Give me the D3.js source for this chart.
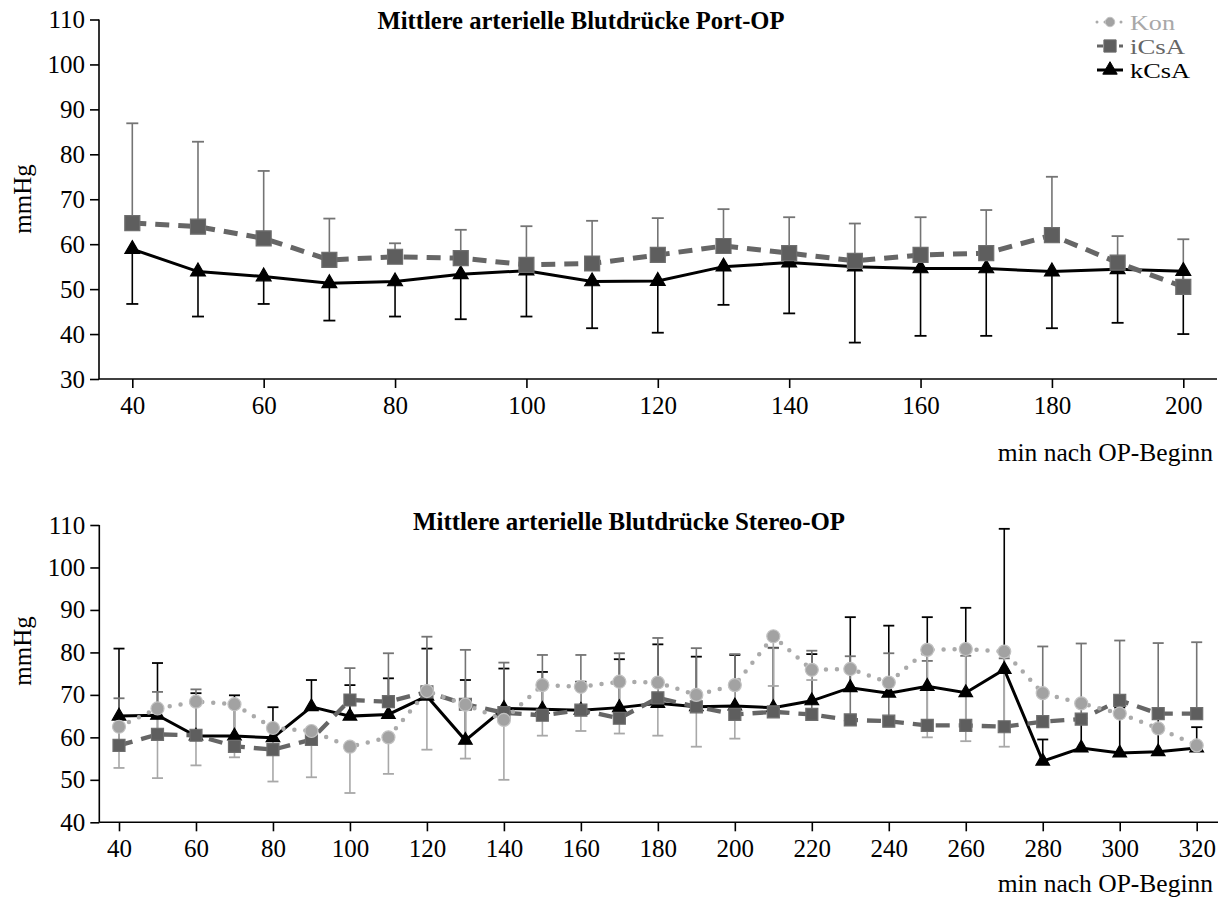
<!DOCTYPE html>
<html>
<head>
<meta charset="utf-8">
<script src="https://cdn.jsdelivr.net/npm/d3@7"></script>
<style>
  html, body { margin: 0; padding: 0; background: #fff; }
  svg { display: block; font-family: "Liberation Serif", "Times New Roman", serif; }
</style>
</head>
<body>
<svg id="chart" width="1222" height="901"></svg>
<script>
// ---------- DATA ----------
const portTitle = "Mittlere arterielle Blutdrücke Port-OP";
const stereoTitle = "Mittlere arterielle Blutdrücke Stereo-OP";
const yLabel = "mmHg";
const xLabel = "min nach OP-Beginn";
const seriesNames = ["Kon", "iCsA", "kCsA"];

const portTime = [40, 50, 60, 70, 80, 90, 100, 110, 120, 130, 140, 150, 160, 170, 180, 190, 200];
const portICsA = [64.7, 63.9, 61.3, 56.5, 57.2, 56.9, 55.4, 55.7, 57.6, 59.6, 58.0, 56.3, 57.6, 58.0, 62.0, 55.9, 50.5];
const portICsAErrHigh = [86.9, 82.8, 76.3, 65.7, 60.2, 63.2, 64.0, 65.2, 65.8, 67.8, 66.0, 64.6, 66.0, 67.6, 75.0, 61.8, 61.1];
const portKCsA = [58.9, 53.9, 52.8, 51.3, 51.7, 53.3, 54.1, 51.7, 51.8, 55.0, 55.9, 55.0, 54.6, 54.6, 53.9, 54.4, 54.0];
const portKCsAErrLow = [46.7, 43.9, 46.7, 43.0, 43.9, 43.3, 43.9, 41.3, 40.3, 46.5, 44.6, 38.1, 39.6, 39.6, 41.3, 42.5, 40.0];
const portXTicks = [40, 60, 80, 100, 120, 140, 160, 180, 200];
const portYTicks = [30, 40, 50, 60, 70, 80, 90, 100, 110];

const stereoTime = [40, 50, 60, 70, 80, 90, 100, 110, 120, 130, 140, 150, 160, 170, 180, 190, 200, 210, 220, 230, 240, 250, 260, 270, 280, 290, 300, 310, 320];
const stereoKon = [62.5, 66.8, 68.4, 67.8, 62.2, 61.5, 57.8, 60.0, 70.9, 67.7, 64.1, 72.3, 71.9, 73.1, 72.9, 70.0, 72.3, 83.8, 75.9, 76.1, 72.9, 80.6, 80.8, 80.2, 70.4, 68.0, 65.6, 62.1, 58.1];
const stereoKonErrLow = [52.8, 50.4, 53.4, 55.3, 49.6, 50.6, 46.9, 51.4, 57.1, 55.0, 50.0, 60.4, 61.5, 60.9, 60.4, 57.8, 59.7, 72.1, 73.5, null, null, 60.0, 59.1, 57.8, null, null, null, null, null];
const stereoICsA = [58.1, 60.7, 60.5, 57.9, 57.1, 59.5, 68.8, 68.4, 70.7, 67.8, 65.8, 65.2, 66.4, 64.5, 69.3, 67.2, 65.4, 66.0, 65.4, 64.1, 63.8, 62.8, 62.8, 62.5, 63.7, 64.3, 68.7, 65.6, 65.6];
const stereoICsAErrHigh = [69.2, 70.7, 71.3, null, null, null, 76.3, 79.8, 83.7, 80.6, 77.6, 79.4, 79.4, 79.8, 83.4, 81.0, 79.6, 81.0, 80.4, 79.1, 79.8, 78.0, 79.2, 78.6, 81.4, 82.1, 82.8, 82.2, 82.4];
const stereoKCsA = [65.0, 65.2, 60.3, 60.3, 59.9, 67.2, 65.0, 65.4, 69.7, 59.3, 66.8, 66.6, 66.4, 67.0, 68.0, 67.2, 67.4, 67.0, 68.6, 71.7, 70.4, 72.0, 70.5, 76.0, 54.4, 57.5, 56.3, 56.6, 57.5];
const stereoKCsAErrHigh = [80.9, 77.5, 70.4, 69.9, 67.1, 73.5, 72.3, 73.9, 80.9, 73.5, 76.2, 75.4, 73.1, 78.4, 81.9, 79.0, 79.4, 81.1, 79.6, 88.3, 86.3, 88.3, 90.5, 109.1, 59.5, 65.2, 67.0, 66.6, 62.4];
const stereoXTicks = [40, 60, 80, 100, 120, 140, 160, 180, 200, 220, 240, 260, 280, 300, 320];
const stereoYTicks = [40, 50, 60, 70, 80, 90, 100, 110];

// ---------- STYLES ----------
const FONT = '"Liberation Serif", "Times New Roman", Times, serif';
const styles = {
  Kon:  { line: "#aaaaaa", dash: "0,11", cap: "round", err: "#a8a8a8", fill: "#a2a2a2", stroke: "#c2c2c2", symbol: d3.symbolCircle, text: "#a8a8a8" },
  iCsA: { line: "#666666", dash: "14,9", cap: "butt", err: "#747474", fill: "#5e5e5e", stroke: "#6e6e6e", symbol: d3.symbolSquare, text: "#666666" },
  kCsA: { line: "#000000", dash: null, cap: "butt", err: "#000000", fill: "#000000", stroke: "#000000", symbol: d3.symbolTriangle, text: "#000000" }
};

const svg = d3.select("#chart");

function drawPanel(cfg) {
  const g = svg.append("g");
  const x = d3.scaleLinear().domain(cfg.xDomain).range(cfg.xRange);
  const y = d3.scaleLinear().domain(cfg.yDomain).range(cfg.yRange);

  // axes
  const yAxis = g.append("g").attr("transform", `translate(${cfg.axisX},0)`)
    .call(d3.axisLeft(y).tickValues(cfg.yTicks).tickSize(9).tickPadding(5).tickFormat(d3.format("d")));
  const xAxis = g.append("g").attr("transform", `translate(0,${cfg.yRange[0]})`)
    .call(d3.axisBottom(x).tickValues(cfg.xTicks).tickSize(9).tickPadding(8).tickFormat(d3.format("d")));
  xAxis.select(".domain").attr("d", `M${cfg.axisX},0H${cfg.axisRight}`);
  yAxis.select(".domain").attr("d", `M0,${cfg.yRange[0]}V${cfg.yRange[1]}`);
  [xAxis, yAxis].forEach(a => {
    a.attr("font-family", FONT).attr("font-size", 25);
    a.selectAll(".domain").attr("stroke", "#000").attr("stroke-width", 1.6);
    a.selectAll(".tick line").attr("stroke", "#000").attr("stroke-width", 1.6);
    a.selectAll(".tick text").attr("fill", "#000").attr("font-family", FONT).attr("font-size", 25);
  });

  // titles
  g.append("text").attr("x", cfg.titleX).attr("y", cfg.titleY).attr("text-anchor", "middle")
    .attr("font-family", FONT).attr("font-size", 25).attr("font-weight", "bold")
    .attr("textLength", cfg.titleLen).attr("lengthAdjust", "spacingAndGlyphs")
    .text(cfg.title);
  g.append("text").attr("transform", `translate(${cfg.yLabelX},${cfg.yLabelY}) rotate(-90)`)
    .attr("text-anchor", "middle").attr("dominant-baseline", "central")
    .attr("font-family", FONT).attr("font-size", 25).text(yLabel);
  g.append("text").attr("x", 1213).attr("y", cfg.xLabelY).attr("text-anchor", "end")
    .attr("font-family", FONT).attr("font-size", 25.5).text(xLabel);

  // error bars
  cfg.series.forEach(s => {
    const st = styles[s.name];
    const pts = cfg.time.map((t, i) => ({ t, v: s.values[i], e: s.err ? s.err[i] : null }));
    const eg = g.append("g");
    pts.filter(p => p.e != null).forEach(p => {
      eg.append("line").attr("x1", x(p.t)).attr("x2", x(p.t)).attr("y1", y(p.v)).attr("y2", y(p.e))
        .attr("stroke", st.err).attr("stroke-width", 1.6);
      eg.append("line").attr("x1", x(p.t) - cfg.capW / 2).attr("x2", x(p.t) + cfg.capW / 2)
        .attr("y1", y(p.e)).attr("y2", y(p.e)).attr("stroke", st.err).attr("stroke-width", 1.8);
    });
    s._pts = pts;
  });
  // lines + markers
  cfg.series.forEach(s => {
    const st = styles[s.name];
    const line = d3.line().x(p => x(p.t)).y(p => y(p.v));
    g.append("path").datum(s._pts).attr("d", line).attr("fill", "none")
      .attr("stroke", st.line).attr("stroke-width", cfg.widths[s.name])
      .attr("stroke-dasharray", st.dash).attr("stroke-linecap", st.cap);
    g.append("g").selectAll("path").data(s._pts).join("path")
      .attr("transform", p => `translate(${x(p.t)},${y(p.v)})`)
      .attr("d", d3.symbol().type(st.symbol).size(cfg.sizes[s.name]))
      .attr("fill", st.fill).attr("stroke", st.stroke).attr("stroke-width", 1.2);
  });
}

// ---------- TOP PANEL ----------
drawPanel({
  title: portTitle, titleX: 581, titleY: 29, titleLen: 407,
  xDomain: [40, 200], xRange: [132.3, 1183.3],
  yDomain: [30, 110], yRange: [379, 19.5],
  axisX: 99, axisRight: 1217,
  xTicks: portXTicks, yTicks: portYTicks,
  yLabelX: 22, yLabelY: 199, xLabelY: 461,
  capW: 12,
  widths: { Kon: 4.5, iCsA: 5, kCsA: 3 },
  sizes: { Kon: 130, iCsA: 225, kCsA: 95 },
  time: portTime,
  series: [
    { name: "kCsA", values: portKCsA, err: portKCsAErrLow },
    { name: "iCsA", values: portICsA, err: portICsAErrHigh }
  ]
});

// ---------- BOTTOM PANEL ----------
drawPanel({
  title: stereoTitle, titleX: 629, titleY: 530, titleLen: 432,
  xDomain: [40, 320], xRange: [119, 1196.7],
  yDomain: [40, 110], yRange: [822.3, 525],
  axisX: 99.3, axisRight: 1218,
  xTicks: stereoXTicks, yTicks: stereoYTicks,
  yLabelX: 22, yLabelY: 651, xLabelY: 892,
  capW: 11,
  widths: { Kon: 4.5, iCsA: 4.3, kCsA: 3 },
  sizes: { Kon: 133, iCsA: 144, kCsA: 80 },
  time: stereoTime,
  series: [
    { name: "kCsA", values: stereoKCsA, err: stereoKCsAErrHigh },
    { name: "iCsA", values: stereoICsA, err: stereoICsAErrHigh },
    { name: "Kon", values: stereoKon, err: stereoKonErrLow }
  ]
});

// ---------- LEGEND ----------
const legend = svg.append("g");
const legendSizes = { Kon: 70, iCsA: 150, kCsA: 90 };
seriesNames.forEach((name, i) => {
  const st = styles[name];
  const cy = 22 + i * 24;
  legend.append("line").attr("x1", 1097).attr("x2", 1123).attr("y1", cy).attr("y2", cy)
    .attr("stroke", st.line).attr("stroke-width", 3)
    .attr("stroke-dasharray", name === "Kon" ? "0,8" : (name === "iCsA" ? "6,5" : null))
    .attr("stroke-linecap", st.cap);
  legend.append("path").attr("transform", `translate(1110,${cy})`)
    .attr("d", d3.symbol().type(st.symbol).size(legendSizes[name]))
    .attr("fill", st.fill).attr("stroke", st.stroke);
  legend.append("text").attr("x", 1130).attr("y", cy + 8)
    .attr("font-family", FONT).attr("font-size", 21.5)
    .attr("textLength", name === "Kon" ? 45 : (name === "iCsA" ? 55 : 60)).attr("lengthAdjust", "spacingAndGlyphs")
    .attr("fill", st.text).text(name);
});
</script>
</body>
</html>
